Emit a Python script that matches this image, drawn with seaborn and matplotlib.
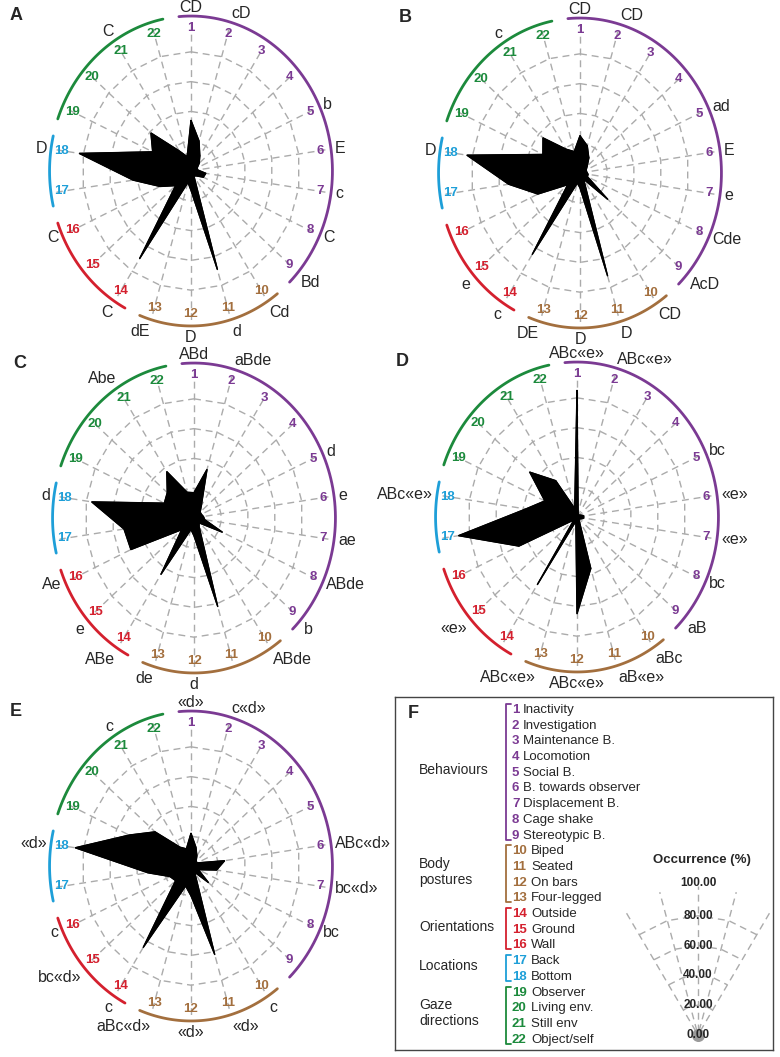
import numpy as np
import pandas as pd
import matplotlib
matplotlib.use("Agg")
import matplotlib.pyplot as plt
import seaborn as sns

sns.set_style("white")
plt.rcParams['font.family'] = ['Liberation Sans', 'DejaVu Sans']

# items shown on the 22 spokes
item_names = ["Inactivity", "Investigation", "Maintenance B.", "Locomotion", "Social B.",
              "B. towards observer", "Displacement B.", "Cage shake", "Stereotypic B.",
              "Biped", "Seated", "On bars", "Four-legged",
              "Outside", "Ground", "Wall",
              "Back", "Bottom",
              "Observer", "Living env.", "Still env", "Object/self"]
group_names = ["Behaviours", "Body\npostures", "Orientations", "Locations", "Gaze\ndirections"]
group_first = [1, 10, 14, 17, 19]
group_last = [9, 13, 16, 18, 22]
group_colors = ["#7B3A93", "#A36F3E", "#D4202E", "#1E9FD8", "#1C8A3C"]

# occurrence (%) per item
occ_A = [34, 21, 12, 8, 5, 5, 11, 10, 5, 4, 69, 13, 8, 70, 15, 25, 43, 83, 31, 39, 16, 10]
occ_B = [25, 19, 12, 7, 5, 5, 6, 6, 27, 5, 72, 10, 7, 65, 12, 34, 53, 84, 30, 36, 19, 15]
occ_C = [17, 34, 10, 6, 6, 7, 8, 23, 5, 7, 62, 12, 8, 45, 12, 51, 52, 76, 24, 26, 37, 18]
occ_D = [85, 3, 2, 2, 3, 5, 5, 3, 2, 3, 36, 65, 3, 54, 3, 47, 88, 38, 26, 46, 29, 6]
occ_E = [22, 13, 8, 5, 5, 25, 19, 6, 17, 5, 62, 20, 14, 65, 15, 17, 32, 86, 50, 35, 15, 12]

# significance letters per item ('' = none)
sig_A = ["CD", "cD", "", "", "b", "E", "c", "C", "Bd", "Cd", "d", "D", "dE", "C", "", "C",
         "", "D", "", "", "C", ""]
sig_B = ["CD", "CD", "", "", "ad", "E", "e", "Cde", "AcD", "CD", "D", "D", "DE", "c", "e", "",
         "", "D", "", "", "c", ""]
sig_C = ["ABd", "aBde", "", "", "d", "e", "ae", "ABde", "b", "ABde", "", "d", "de", "ABe", "e", "Ae",
         "", "d", "", "", "Abe", ""]
sig_D = ["ABc«e»", "ABc«e»", "", "", "bc", "«e»", "«e»", "bc", "aB", "aBc", "aB«e»", "ABc«e»",
         "ABc«e»", "", "«e»", "", "", "ABc«e»", "", "", "", ""]
sig_E = ["«d»", "c«d»", "", "", "", "ABc«d»", "bc«d»", "bc", "", "c", "«d»", "«d»", "aBc«d»",
         "c", "bc«d»", "c", "", "«d»", "", "", "c", ""]

ring_levels = [20, 40, 60, 80]
scale_levels = [0, 20, 40, 60, 80, 100]

W, H = 780, 1057
RX, RY = 136, 149
fig = plt.figure(figsize=(W / 100, H / 100), dpi=100)

n = len(item_names)
step = 2 * np.pi / n
theta = np.arange(n) * step
item_color = []
for g in range(len(group_names)):
    item_color += [group_colors[g]] * (group_last[g] - group_first[g] + 1)

grid_kw = dict(color="#ababab", lw=1.0, ls=(0, (5, 3.5)), zorder=1)


def polar_at(cx, cy):
    ax = fig.add_axes([(cx - RX) / W, 1 - (cy + RY) / H, 2 * RX / W, 2 * RY / H],
                      projection="polar")
    ax.set_theta_zero_location("N")
    ax.set_theta_direction(-1)
    ax.set_aspect("auto")
    ax.axis("off")
    return ax


def radar(cx, cy, values, sig, letter):
    ax = polar_at(cx, cy)
    closed = np.append(theta, theta[0])
    for r in ring_levels:
        ax.plot(closed, [r] * (n + 1), **grid_kw)
    for t in theta:
        ax.plot([t, t], [0, 100], **grid_kw)

    df = pd.DataFrame({"theta": closed, "occ": np.append(values, values[0])})
    ax.fill(df["theta"], df["occ"], color="black", zorder=3)
    sns.lineplot(data=df, x="theta", y="occ", sort=False, estimator=None,
                 color="black", lw=0.8, ax=ax, zorder=4)
    ax.set_rlim(0, 100)
    ax.axis("off")

    for i, t in enumerate(theta):
        ax.text(t, 96, str(i + 1), color=item_color[i], fontweight="bold", fontsize=9.5,
                ha="center", va="center", zorder=5)
        if sig[i]:
            s, c = np.sin(t), np.cos(t)
            ha = "left" if s > 0.2 else ("right" if s < -0.2 else "center")
            va = "bottom" if c > 0.5 else ("top" if c < -0.5 else "center")
            ax.text(t, 105 if c > 0.5 else 107, sig[i], fontsize=11.5, ha=ha, va=va)

    for g in range(len(group_names)):
        a0 = theta[group_first[g] - 1] - 0.3 * step
        a1 = theta[group_last[g] - 1] + 0.3 * step
        arc = np.linspace(a0, a1, 80)
        ax.plot(arc, np.full(80, 104), color=group_colors[g], lw=2, clip_on=False)

    fig.text((cx - 181) / W, 1 - (cy - 155) / H, letter, fontsize=13, fontweight="bold",
             ha="left", va="center")


radar(191, 171, occ_A, sig_A, "A")
radar(580, 173, occ_B, sig_B, "B")
radar(194, 518, occ_C, sig_C, "C")
radar(577, 517, occ_D, sig_D, "D")
radar(191, 866, occ_E, sig_E, "E")

# ---- panel F: legend box
axF = fig.add_axes([395 / W, 1 - 1050 / H, 378 / W, 353 / H])
axF.set_xlim(395, 773)
axF.set_ylim(1050, 697)
axF.set_xticks([])
axF.set_yticks([])
for sp in axF.spines.values():
    sp.set_color("#444444")
    sp.set_linewidth(1)
fig.text(413 / W, 1 - 713 / H, "F", fontsize=13, fontweight="bold", ha="center", va="center")

row_y = 710 + np.arange(n) * 15.7
for i in range(n):
    axF.text(512, row_y[i], str(i + 1), color=item_color[i], fontweight="bold",
             fontsize=9.5, ha="left", va="center")
    axF.text(523 if i < 9 else 531, row_y[i], item_names[i], fontsize=9.5,
             ha="left", va="center")
for g in range(len(group_names)):
    y0 = row_y[group_first[g] - 1] - 6
    y1 = row_y[group_last[g] - 1] + 4
    axF.plot([511, 506, 506, 511], [y0, y0, y1, y1], color=group_colors[g], lw=1.3)
    axF.text(419, (y0 + y1) / 2 - 2, group_names[g], fontsize=10, ha="left", va="center")

axF.text(702, 860, "Occurrence (%)", fontsize=9.5, fontweight="bold", ha="center", va="center")

# scale wedge
axS = polar_at(698, 1035)
ts = np.arange(-2, 3) * step
for r in ring_levels:
    axS.plot(ts, [r] * len(ts), **grid_kw)
for t in ts:
    axS.plot([t, t], [3, 100], **grid_kw)
axS.scatter([0], [0], s=70, color="#9a9a9a", zorder=2)
for v in scale_levels:
    axS.text(0, v + (2 if v == 100 else 0), f"{v:.2f}", fontsize=8.5, fontweight="bold",
             ha="center", va="center", zorder=3)
axS.set_rlim(0, 100)
axS.axis("off")

fig.savefig("out.png", dpi=100)
